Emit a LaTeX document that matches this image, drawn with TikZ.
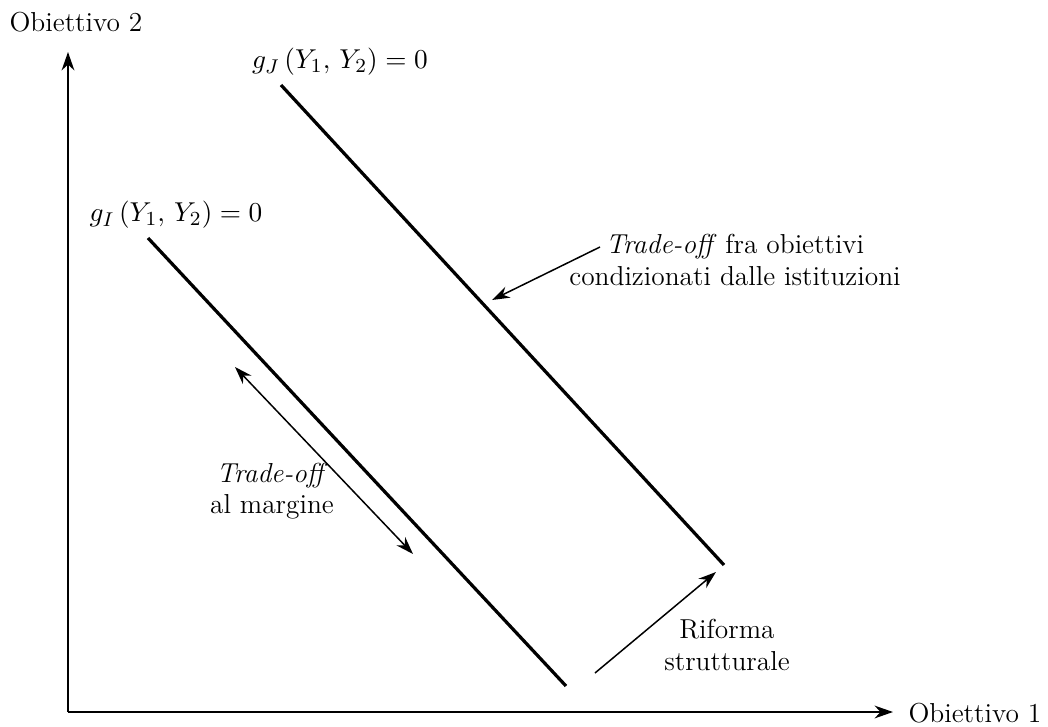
\documentclass[tikz,border=0pt]{standalone}
\usepackage{amsmath}
\usetikzlibrary{arrows.meta,positioning}

\begin{document}
\begin{tikzpicture}[x=0.0141cm, y=-0.0141cm,
    axis/.style={-{Stealth[length=2.6mm, width=1.8mm]}, line width=0.8pt},
    frontier/.style={line width=1.3pt},
    arrow/.style={-{Stealth[length=2.5mm, width=1.7mm]}, line width=0.6pt},
    twoway/.style={{Stealth[length=2.5mm, width=1.7mm]}-{Stealth[length=2.5mm, width=1.7mm]}, line width=0.6pt},
    lbl/.style={align=center, inner sep=0pt, font=\fontsize{11}{12.5}\selectfont}
]
\useasboundingbox (0,0) rectangle (1048,727);

%% Axes
\coordinate (O) at (68,712);
\coordinate (ytip) at (68,52);
\coordinate (xtip) at (893,712);
\draw[axis] (O) -- (ytip);
\draw[axis] (O) -- (xtip);
\node[lbl] (ylab) at (76,22) {Obiettivo 2};
\node[lbl, anchor=west] (xlab) at (908,713) {Obiettivo 1};

%% Frontiers
\coordinate (I1) at (148,238);
\coordinate (I2) at (566,686);
\coordinate (J1) at (281,85);
\coordinate (J2) at (724,565);
\draw[frontier] (I1) -- (I2);
\draw[frontier] (J1) -- (J2);
\node[lbl] (gI) at (176,215) {$g_I\,(Y_1,\,Y_2) = 0$};
\node[lbl] (gJ) at (340,62) {$g_J\,(Y_1,\,Y_2) = 0$};

%% Trade-off at the margin
\coordinate (m1) at (235,367);
\coordinate (m2) at (413,554);
\draw[twoway] (m1) -- (m2);
\node[lbl] (margin) at (272,491) {\textit{Trade-off}\\al margine};

%% Institutional trade-off
\node[lbl] (inst) at (735,260) {\textit{Trade-off} fra obiettivi\\condizionati dalle istituzioni};
\coordinate (inst_from) at (600,247);
\coordinate (inst_to) at (492,300);
\draw[arrow] (inst_from) -- (inst_to);

%% Structural reform
\coordinate (ref_from) at (595,673);
\coordinate (ref_to) at (716,572);
\draw[arrow] (ref_from) -- (ref_to);
\node[lbl] (reform) at (727,645) {Riforma\\strutturale};

\end{tikzpicture}
\end{document}
